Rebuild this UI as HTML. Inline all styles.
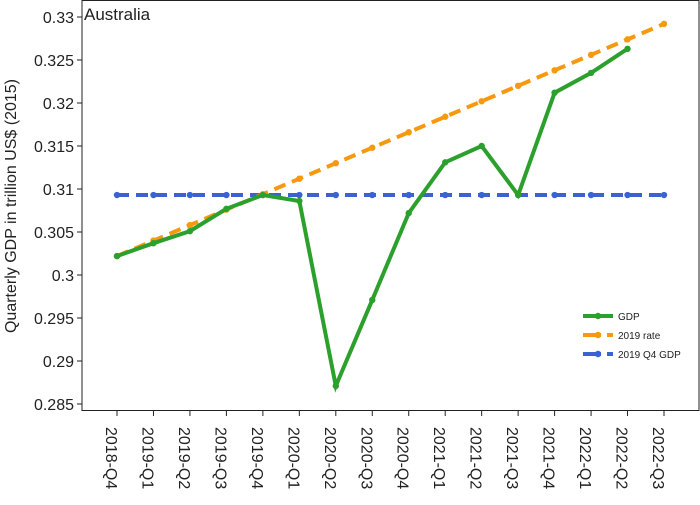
<!DOCTYPE html>
<html><head><meta charset="utf-8"><style>
body{margin:0;background:#fff;font-family:"Liberation Sans",sans-serif}
svg text{font-family:"Liberation Sans",sans-serif;fill:#222}
</style></head><body>
<svg id="chart" width="700" height="500">
<rect x="82" y="0.5" width="617" height="410" fill="#fff" stroke="#222"/>
<text x="84" y="20" font-size="17">Australia</text>
<text transform="translate(16,206) rotate(-90)" text-anchor="middle" font-size="16">Quarterly GDP in trillion US$ (2015)</text>
<g id="yaxis"></g>
<g id="xaxis"></g>
<g id="series"></g>
<g id="legend"></g>
</svg>
<script>
const categories=["2018-Q4","2019-Q1","2019-Q2","2019-Q3","2019-Q4","2020-Q1","2020-Q2","2020-Q3","2020-Q4","2021-Q1","2021-Q2","2021-Q3","2021-Q4","2022-Q1","2022-Q2","2022-Q3"];
const gdpValues=[0.3022,0.3037,0.3051,0.3077,0.3093,0.3086,0.2871,0.2971,0.3072,0.3131,0.3150,0.3093,0.3212,0.3235,0.3263,null];
const rateValues=[0.3022,0.3040,0.3058,0.3076,0.3094,0.3112,0.3130,0.3148,0.3166,0.3184,0.3202,0.3220,0.3238,0.3256,0.3274,0.3292];
const q4Values=[0.3093,0.3093,0.3093,0.3093,0.3093,0.3093,0.3093,0.3093,0.3093,0.3093,0.3093,0.3093,0.3093,0.3093,0.3093,0.3093];
const yTicks=[0.285,0.29,0.295,0.3,0.305,0.31,0.315,0.32,0.325,0.33];
const yTickLabels=["0.285","0.29","0.295","0.3","0.305","0.31","0.315","0.32","0.325","0.33"];
const NS="http://www.w3.org/2000/svg";
const x=i=>117+i*(664-117)/15;
const y=v=>17+(0.33-v)/0.005*43;
function mk(tag,attrs,parent){const e=document.createElementNS(NS,tag);for(const k in attrs)e.setAttribute(k,attrs[k]);parent.appendChild(e);return e;}
const ya=document.getElementById('yaxis');
yTicks.forEach((t,i)=>{
 const l=mk('line',{x1:77,x2:82,y1:y(t),y2:y(t),stroke:'#222'},ya);
 
 
 const tx=mk('text',{x:74,y:y(t)+6,'text-anchor':'end','font-size':'16'},ya);
 tx.textContent=yTickLabels[i];
 
 
});
const xa=document.getElementById('xaxis');
categories.forEach((c,i)=>{
 const l=mk('line',{x1:x(i),x2:x(i),y1:411,y2:416,stroke:'#222'},xa);
 
 
 const tx=mk('text',{transform:`translate(${x(i)-11},427) rotate(90)`,'font-size':'16'},xa);
 tx.textContent=c;
 
 
});
const sg=document.getElementById('series');
function series(vals,color,dash,name){
 const pts=vals.map((v,i)=>v==null?null:[x(i),y(v)]).filter(p=>p);
 const p=mk('polyline',{points:pts.map(p=>p.join(',')).join(' '),fill:'none',stroke:color,'stroke-width':4,'stroke-dasharray':dash||'none'},sg);
 
 
 pts.forEach(q=>{
  const c=mk('circle',{cx:q[0],cy:q[1],r:3.2,fill:color},sg);
  
  
 });
}
series(q4Values,'#3a62d1','12 7','q4-gdp');
series(rateValues,'#f7990f','12 7','rate-2019');
series(gdpValues,'#2ca02c',null,'gdp');
const lg=document.getElementById('legend');
[["GDP",'#2ca02c',null],["2019 rate",'#f7990f','18 6'],["2019 Q4 GDP",'#3a62d1','18 6']].forEach((e,i)=>{
 const yy=316+i*19;
 const l=mk('line',{x1:583,x2:613,y1:yy,y2:yy,stroke:e[1],'stroke-width':4,'stroke-dasharray':e[2]||'none'},lg);
 
 
 const c=mk('circle',{cx:598,cy:yy,r:3.2,fill:e[1]},lg);
 
 
 const t=mk('text',{x:618,y:yy+4,'font-size':'10'},lg);
 t.textContent=e[0];
 
 
});
</script>
</body></html>
